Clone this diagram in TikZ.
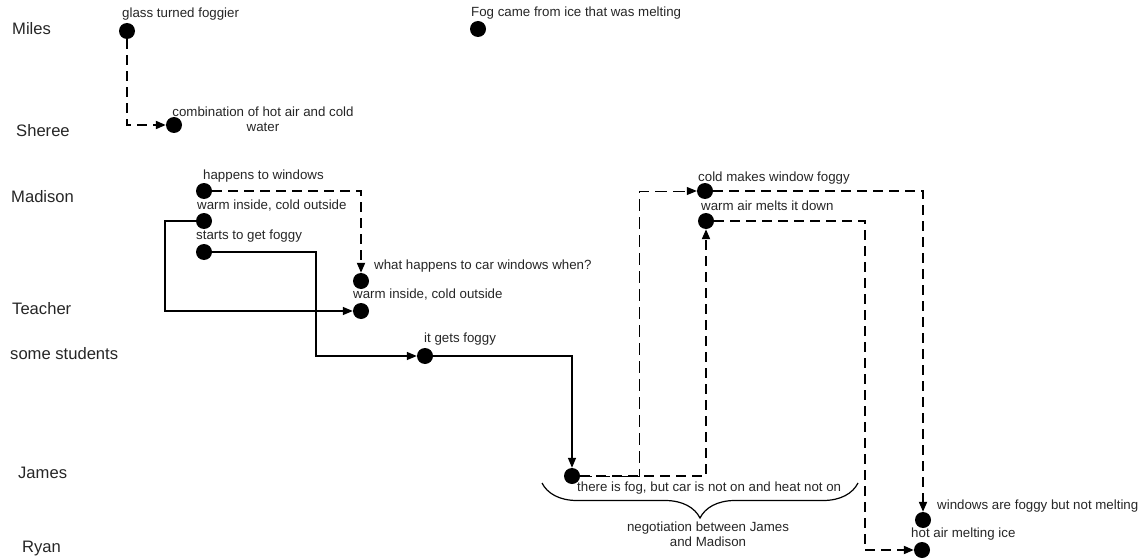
\documentclass[tikz,border=0pt]{standalone}
\usepackage{fontspec}
\setmainfont{Liberation Sans}
\usetikzlibrary{arrows.meta,decorations.pathreplacing}
\begin{document}
\begin{tikzpicture}[x=1pt,y=-1pt,
  dot/.style={circle,fill=black,minimum size=16pt,inner sep=0pt},
  lbl/.style={anchor=west,inner sep=0pt,font=\fontsize{13.3}{15}\selectfont,text=black!85},
  row/.style={anchor=west,inner sep=0pt,font=\fontsize{16.6}{18}\selectfont,text=black!85},
  sol/.style={line width=1.4pt,-{Triangle[length=10pt,width=8pt]}},
  dsh/.style={line width=1.9pt,dash pattern=on 10pt off 6pt,-{Triangle[length=10pt,width=8pt]}},
  thd/.style={line width=1pt,dash pattern=on 12pt off 6pt,-{Triangle[length=10pt,width=8pt]}}]
\path[use as bounding box] (0,0) rectangle (1143,559);

% row names
\node[row] (rMiles) at (12,29) {Miles};
\node[row] (rSheree) at (16,131) {Sheree};
\node[row] (rMadison) at (11,197) {Madison};
\node[row] (rTeacher) at (12,309) {Teacher};
\node[row] (rSome) at (10,354) {some students};
\node[row] (rJames) at (18,473) {James};
\node[row] (rRyan) at (22,549) {Ryan};

% dots
\node[dot] (mi) at (127,31) {};
\node[dot] (fog) at (478,29) {};
\node[dot] (sh) at (174,125) {};
\node[dot] (ma1) at (204,191) {};
\node[dot] (ma2) at (204,221) {};
\node[dot] (ma3) at (204,252) {};
\node[dot] (te1) at (361,281) {};
\node[dot] (te2) at (361,311) {};
\node[dot] (ss) at (425,356) {};
\node[dot] (ja) at (572,476) {};
\node[dot] (ma4) at (705,191) {};
\node[dot] (ma5) at (706,221) {};
\node[dot] (ry1) at (923,520) {};
\node[dot] (ry2) at (922,550) {};

% labels
\node[lbl] (lmi) at (122,14) {glass turned foggier};
\node[lbl] (lfog) at (471,13) {Fog came from ice that was melting};
\node[lbl,anchor=center,align=center] (lsh) at (263,119) {combination of hot air and cold\\water};
\node[lbl] (lma1) at (203,176) {happens to windows};
\node[lbl] (lma2) at (197,206) {warm inside, cold outside};
\node[lbl] (lma3) at (196,236) {starts to get foggy};
\node[lbl] (lte1) at (374,266) {what happens to car windows when?};
\node[lbl] (lte2) at (353,295) {warm inside, cold outside};
\node[lbl] (lss) at (424,339) {it gets foggy};
\node[lbl] (lja) at (577,488) {there is fog, but car is not on and heat not on};
\node[lbl] (lma4) at (698,178) {cold makes window foggy};
\node[lbl] (lma5) at (701,206) {warm air melts it down};
\node[lbl] (lry1) at (937,506) {windows are foggy but not melting};
\node[lbl] (lry2) at (911,534) {hot air melting ice};
\node[lbl,anchor=center,align=center] (lneg) at (708,534) {negotiation between James\\and Madison};

% connectors
\draw[dsh] (mi) |- (sh);
\draw[dsh] (ma1) -| (te1);
\draw[sol] (ma2) -- (165,221) |- (te2);
\draw[sol] (ma3) -- (316,252) |- (ss);
\draw[sol] (ss) -| (ja);
\draw[thd] (ja) -- (639,476) |- (ma4);
\draw[dsh] (ja) -| (ma5);
\draw[dsh] (ma4) -| (ry1);
\draw[dsh] (ma5) -- (865,221) |- (ry2);

% brace
\draw[line width=1.2pt,decorate,decoration={brace,mirror,amplitude=35pt}] (542,483) -- (858,483);
\end{tikzpicture}
\end{document}
